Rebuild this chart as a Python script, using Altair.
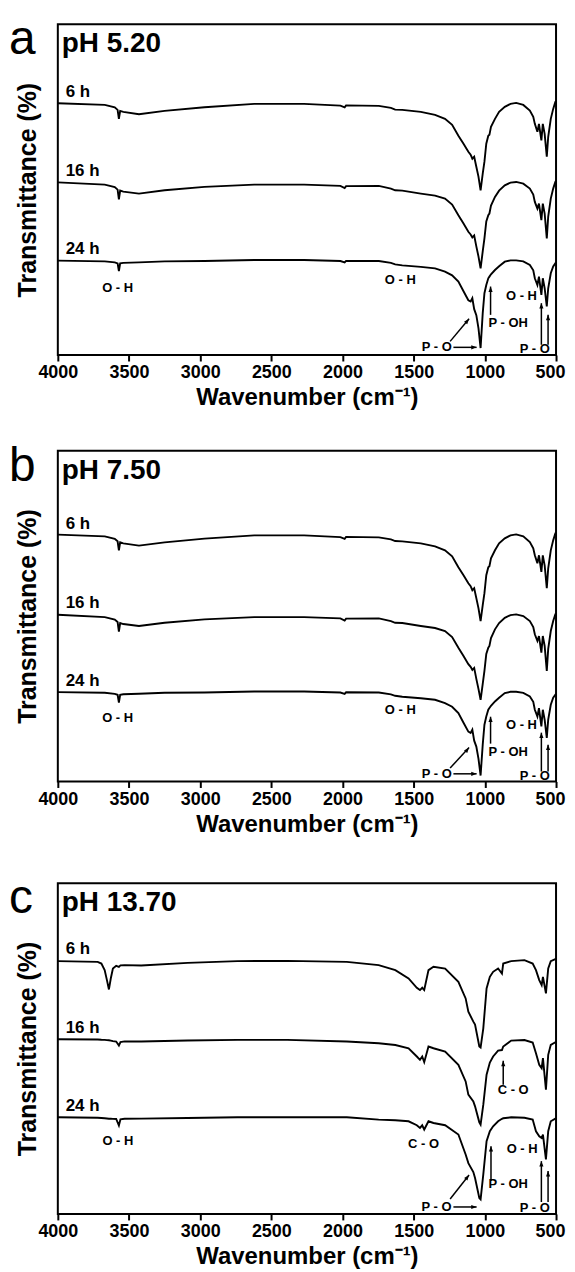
import altair as alt
import pandas as pd

FONT = "Liberation Sans"

# ---------------- data (arbitrary transmittance units) ----------------
W_AB = [4000, 3670, 3600, 3580, 3571, 3562, 3540, 3430, 3250, 2970, 2620, 2270, 2015, 1985, 1975,
        1745, 1660, 1630, 1580, 1450, 1350, 1280, 1230, 1186, 1150, 1116, 1100, 1088, 1075, 1060,
        1045, 1030, 1015, 1003, 990, 976, 968, 957, 929, 900, 860, 820, 780, 730, 684, 660, 649,
        631, 620, 603, 593, 580, 565, 555, 537, 520, 505, 500]

A6 = [252.7, 251, 248.5, 246, 237, 245, 244, 241.7, 245, 248.7, 252, 252, 250.3, 248.5, 250.5,
      250, 248, 246.3, 246, 244, 241, 237, 231, 220, 212, 204, 201, 197, 199, 189, 179, 165.3,
      182, 194, 212, 220, 221, 229, 237, 244, 249, 252, 253, 251, 245.3, 239, 232, 224, 232,
      215.3, 232, 222, 199, 219, 237, 247, 254, 255]
A16 = [173.3, 171, 168.5, 166, 156.3, 165, 164, 162, 165.3, 168.7, 171, 171, 169.7, 167.5, 169.5,
       169.7, 167, 165.3, 165, 162, 160, 157, 151, 140.3, 132, 123.7, 121, 118, 120, 109, 99, 87,
       104, 117, 134, 140.3, 142, 150, 158.7, 165, 170.3, 173, 173.7, 172, 167, 161, 153.7, 147,
       152, 135.3, 152, 142, 117, 139, 157, 167, 173.7, 175]
A24 = [94.7, 94, 93, 92, 84.3, 92, 92.5, 93, 94, 94.3, 95.3, 95.3, 94.3, 93, 94.5, 94.3, 92.5, 91,
       90, 88.5, 87, 83.7, 80, 73.7, 64, 55, 53.7, 57, 46, 40, 27, 7, 42, 62, 70.3, 77, 78.7, 81,
       85.3, 89, 93.7, 95, 95, 94, 90.3, 85, 77, 70.3, 78.7, 60.3, 77, 67, 48.7, 67, 82, 89, 92, 93]

B6 = [247.7, 246, 243.5, 241, 232, 240, 239, 236.7, 240, 243.7, 247, 247, 245.3, 243.5, 245.5,
      245, 243, 241.3, 241, 239, 236, 232, 226, 215, 207, 199, 196, 192, 194, 184, 174, 161, 177,
      189, 207, 215, 216, 224, 232, 239, 244, 247, 248, 246, 240.3, 234, 227, 219, 227, 210.3,
      227, 217, 194, 214, 232, 242, 249, 250]
B16 = [167.3, 165, 162.5, 160, 150.3, 159, 158, 156, 159.3, 162.7, 165, 165, 163.7, 161.5, 163.5,
       163.7, 161, 159.3, 159, 156, 154, 151, 145, 134.3, 126, 117.7, 115, 112, 114, 103, 93, 82,
       98, 111, 128, 134.3, 136, 144, 152.7, 159, 164.3, 167, 167.7, 166, 161, 155, 147.7, 141,
       146, 129.3, 146, 136, 111, 133, 151, 161, 167.7, 169]
B24 = [89.7, 89, 88, 87, 79.3, 87, 87.5, 88, 89, 89.3, 90.3, 90.3, 89.3, 88, 89.5, 89.3, 87.5, 86,
       85, 83.5, 82, 78.7, 75, 68.7, 59, 50, 48.7, 52, 41, 35, 23, 6, 37, 57, 65.3, 72, 73.7, 76,
       80.3, 84, 88.7, 90, 90, 89, 85.3, 80, 72, 65.3, 73.7, 55.3, 72, 62, 43.7, 62, 77, 84, 87, 88]

W_C = [4000, 3720, 3694, 3671, 3655, 3641, 3628, 3613, 3590, 3571, 3560, 3531, 3414, 3088, 2738,
       2388, 1970, 1746, 1629, 1536, 1478, 1456, 1440, 1426, 1396, 1361, 1279, 1186, 1135, 1116,
       1081, 1069, 1039, 1030, 1011, 988, 965, 942, 907, 880, 871, 815, 722, 664, 641, 618, 601,
       592, 571, 555, 537, 505, 500]
C6 = [253.7, 253, 251.3, 244.7, 234.7, 225.3, 236.3, 246.3, 249, 248, 249.5, 249.7, 249.3, 252,
      253.7, 254, 253, 249.7, 244.7, 236.3, 227, 224.7, 227, 224.7, 244.7, 248, 246.3, 233, 216.3,
      203, 193, 190, 168, 167, 186.3, 226.3, 238, 243, 246.3, 241.3, 251.3, 253.7, 254.7, 251.3,
      244.7, 234.7, 229.7, 238, 221.3, 246.3, 253.7, 255.7, 256]
C16 = [175.3, 175, 174.8, 174.7, 174.5, 174.3, 174, 173.5, 173, 169, 172.5, 173.2, 173, 174, 174.7,
       174.7, 173, 171.3, 169.5, 166.3, 158, 154.7, 158, 152.3, 168, 166.3, 163, 149.7, 133, 119.7,
       113, 108, 92, 89.7, 109.7, 139.7, 152, 158, 164, 164.5, 168, 174, 174.5, 172, 161.3, 149.7,
       146.3, 156.3, 124.7, 159.7, 169.7, 172.3, 173]
C24 = [97, 96.5, 96.3, 96, 95.8, 95.6, 95.5, 95.4, 95.3, 88.7, 95, 95.5, 95.7, 96.3, 97, 97, 97,
       94.7, 94, 93, 89, 86.3, 89, 84.7, 93, 91.3, 89, 79.7, 59.7, 51, 42, 36, 16, 14.7, 39.7, 73,
       83, 88, 93, 95.5, 96, 97, 96.5, 94.7, 83, 78, 76.3, 79.7, 54.7, 83, 93, 95.7, 96]

TIMES = ["6 h", "16 h", "24 h"]
LABEL_W = 3945
A_LABEL_V = [258.7, 180, 101]
B_LABEL_V = [253.5, 174, 96]
C_LABEL_V = [260.7, 182, 103.7]

# annotation texts: (text, wavenumber, level)
A_TEXT = [("O - H", 3580, 67), ("O - H", 1594, 75.3), ("P - OH", 836, 32), ("O - H", 743, 59.3),
          ("P - O", 649, 5.6), ("P - O", 1338, 7.7)]
B_TEXT = [("O - H", 3580, 64), ("O - H", 1594, 72), ("P - OH", 836, 30), ("O - H", 743, 57),
          ("P - O", 649, 5.6), ("P - O", 1338, 7.7)]
C_TEXT = [("O - H", 3578, 73), ("C - O", 1431, 69.7), ("C - O", 801, 124.7), ("O - H", 738, 64.7),
          ("P - OH", 836, 30.3), ("P - O", 649, 6), ("P - O", 1340, 7)]

# arrows: (from w, from level, tip w, tip level, head angle)
A_ARROWS = [(960, 40.3, 960, 68.7, 0), (603, 10.3, 603, 52, 0), (556, 10.3, 556, 40.3, 0),
            (1221, 7.7, 1058, 7.7, 90), (1244, 13.7, 1111, 36.3, 40)]
B_ARROWS = [(960, 38, 960, 65, 0), (603, 10, 603, 49, 0), (556, 10, 556, 37, 0),
            (1221, 7.7, 1058, 7.7, 90), (1244, 13.5, 1111, 34, 40)]
C_ARROWS = [(871, 129.7, 871, 153.7, 0), (957, 33, 957, 68, 0), (603, 12, 603, 53, 0),
            (556, 12, 556, 43, 0), (1221, 7, 1058, 7, 90), (1244, 15, 1111, 39, 38)]

X_VALUES = [4000, 3750, 3500, 3250, 3000, 2750, 2500, 2250, 2000, 1750, 1500, 1250, 1000, 750, 500]

PW, PH = 500, 332
HEAD = "M0,0L-0.7,1.8L0.7,1.8Z"


def panel(letter, ph, w, series, label_v, texts, arrows):
    xs = alt.Scale(domain=[500, 4000], reverse=True, nice=False, zero=False)
    ys = alt.Scale(domain=[0, 332], nice=False, zero=False)
    xaxis = alt.Axis(
        values=X_VALUES, format="d", title="Wavenumber (cm\u207b\u00b9)",
        labelExpr="datum.value % 500 === 0 ? datum.label : ''",
        labelOverlap=False, labelFlush=False, labelBound=False, domain=False, grid=False,
        labelOffset={"condition": {"test": "datum.value === 500", "value": -6}, "value": 0},
        tickSize={"condition": {"test": "datum.value % 500 === 0", "value": 6}, "value": 4},
        tickWidth={"condition": {"test": "datum.value % 500 === 0", "value": 2}, "value": 1.5},
        tickColor="black", labelPadding=3, labelFontSize=18, labelFontWeight="bold",
        labelFont=FONT, labelColor="black", titleFont=FONT, titleFontSize=24,
        titleFontWeight="bold", titleColor="black", titlePadding=4)
    yaxis = alt.Axis(title="Transmittance (%)", labels=False, ticks=False, domain=False,
                     grid=False, titleFont=FONT, titleFontSize=25, titleFontWeight="bold",
                     titleColor="black", titlePadding=17)

    rows = []
    for name, vals in zip(TIMES, series):
        for wi, vi in zip(w, vals):
            rows.append({"w": wi, "v": vi, "s": name})
    spec = pd.DataFrame(rows)

    lines = alt.Chart(spec).mark_line(color="black", strokeWidth=1.9, clip=True).encode(
        x=alt.X("w:Q", scale=xs, axis=xaxis),
        y=alt.Y("v:Q", scale=ys, axis=yaxis),
        detail="s:N",
        order="w:Q",
    )

    lab = pd.DataFrame({"w": [LABEL_W] * 3, "v": label_v, "t": TIMES})
    time_labels = alt.Chart(lab).mark_text(
        align="left", baseline="alphabetic", font=FONT, fontSize=17, fontWeight="bold",
        color="black").encode(x="w:Q", y="v:Q", text="t:N")

    tdf = pd.DataFrame(texts, columns=["t", "w", "v"])
    ann = alt.Chart(tdf).mark_text(
        align="center", baseline="middle", font=FONT, fontSize=13, fontWeight="bold",
        color="black").encode(x="w:Q", y="v:Q", text="t:N")

    adf = pd.DataFrame(arrows, columns=["w1", "v1", "w2", "v2", "a"])
    shafts = alt.Chart(adf).mark_rule(color="black", strokeWidth=1.5).encode(
        x="w1:Q", y="v1:Q", x2="w2:Q", y2="v2:Q")
    heads = alt.Chart(adf).mark_point(
        shape=HEAD, filled=True, size=36, color="black", opacity=1, strokeWidth=0).encode(
        x="w2:Q", y="v2:Q", angle=alt.Angle("a:Q", scale=None))

    ldf = pd.DataFrame({"t": [letter]})
    letter_mark = alt.Chart(ldf).mark_text(
        align="left", baseline="alphabetic", font=FONT, fontSize=48, fontWeight="normal",
        color="black").encode(x=alt.value(-49), y=alt.value(30), text="t:N")

    pdf = pd.DataFrame({"t": [ph]})
    ph_mark = alt.Chart(pdf).mark_text(
        align="left", baseline="alphabetic", font=FONT, fontSize=28, fontWeight="bold",
        color="black").encode(x=alt.value(4), y=alt.value(28), text="t:N")

    return alt.layer(lines, time_labels, ann, shafts, heads, letter_mark, ph_mark).properties(
        width=PW, height=PH)


pa = panel("a", "pH 5.20", W_AB, [A6, A16, A24], A_LABEL_V, A_TEXT, A_ARROWS)
pb = panel("b", "pH 7.50", W_AB, [B6, B16, B24], B_LABEL_V, B_TEXT, B_ARROWS)
pc = panel("c", "pH 13.70", W_C, [C6, C16, C24], C_LABEL_V, C_TEXT, C_ARROWS)

chart = alt.vconcat(alt.vconcat(pa, pb, spacing=31), pc, spacing=37).configure(
    padding={"left": 0, "top": 5, "right": 0, "bottom": 0},
    font=FONT,
).configure_view(stroke="black", strokeWidth=2)

chart.save("out.html", embed_options={"renderer": "svg", "actions": False})
